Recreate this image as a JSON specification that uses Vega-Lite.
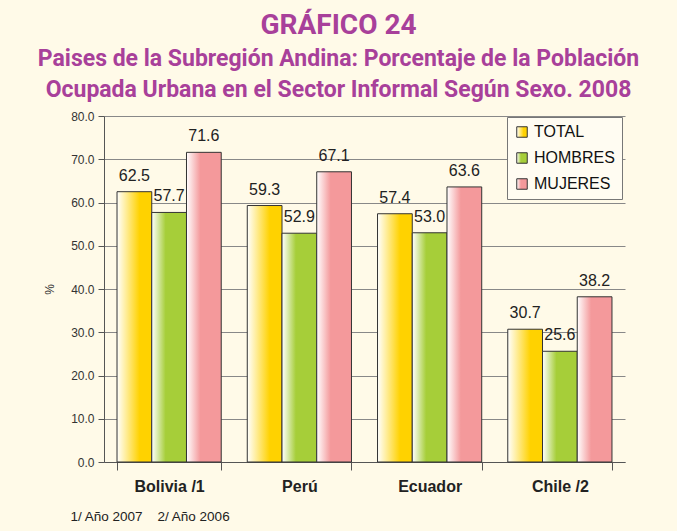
{
  "$schema": "https://vega.github.io/schema/vega-lite/v6.json",
  "autosize": {"type": "none"},
  "padding": {"left": 104, "top": 116, "right": 52, "bottom": 69},
  "width": 521,
  "height": 346,
  "background": "#FFFAE8",
  "title": {
    "text": "GRÁFICO 24",
    "subtitle": ["Paises de la Subregión Andina: Porcentaje de la Población", "Ocupada Urbana en el Sector Informal Según Sexo. 2008"],
    "font": "Roboto, Liberation Sans, sans-serif",
    "fontSize": 28,
    "fontWeight": "bold",
    "color": "#A8409A",
    "subtitleFont": "Roboto, Liberation Sans, sans-serif",
    "subtitleFontSize": 23,
    "subtitleFontWeight": "bold",
    "subtitleColor": "#A8409A",
    "subtitleLineHeight": 31,
    "subtitlePadding": 8,
    "anchor": "middle",
    "dx": -26,
    "offset": 8
  },
  "data": {
    "values": [
      {"pais": "Bolivia /1", "sexo": "TOTAL", "valor": 62.5},
      {"pais": "Bolivia /1", "sexo": "HOMBRES", "valor": 57.7},
      {"pais": "Bolivia /1", "sexo": "MUJERES", "valor": 71.6},
      {"pais": "Perú", "sexo": "TOTAL", "valor": 59.3},
      {"pais": "Perú", "sexo": "HOMBRES", "valor": 52.9},
      {"pais": "Perú", "sexo": "MUJERES", "valor": 67.1},
      {"pais": "Ecuador", "sexo": "TOTAL", "valor": 57.4},
      {"pais": "Ecuador", "sexo": "HOMBRES", "valor": 53.0},
      {"pais": "Ecuador", "sexo": "MUJERES", "valor": 63.6},
      {"pais": "Chile /2", "sexo": "TOTAL", "valor": 30.7},
      {"pais": "Chile /2", "sexo": "HOMBRES", "valor": 25.6},
      {"pais": "Chile /2", "sexo": "MUJERES", "valor": 38.2}
    ]
  },
  "encoding": {
    "x": {
      "field": "pais", "type": "nominal", "sort": null,
      "scale": {"paddingInner": 0.2, "paddingOuter": 0.1},
      "axis": {
        "labelAngle": 0, "labelFont": "Liberation Sans, Arial, sans-serif", "labelFontSize": 16, "labelFontWeight": "bold",
        "labelColor": "#222", "labelPadding": 8, "tickBand": "extent", "tickSize": 8, "tickColor": "#555",
        "domainColor": "#555", "title": "1/ Año 2007\u00a0\u00a0\u00a0 2/ Año 2006", "titleFont": "Liberation Sans, Arial, sans-serif",
        "titleFontSize": 13.5, "titleFontWeight": "normal", "titleColor": "#222", "titleAnchor": "start", "titleAlign": "left",
        "titleX": -34, "titleY": 47
      }
    },
    "xOffset": {"field": "sexo", "type": "nominal", "sort": ["TOTAL", "HOMBRES", "MUJERES"], "scale": {"paddingInner": 0, "paddingOuter": 0}},
    "y": {
      "field": "valor", "type": "quantitative",
      "scale": {"domain": [0, 80], "nice": false},
      "axis": {
        "values": [0, 10, 20, 30, 40, 50, 60, 70, 80], "format": ".1f", "title": "%",
        "labelFont": "Liberation Sans, Arial, sans-serif", "labelFontSize": 12, "labelColor": "#333", "labelPadding": 4,
        "tickSize": 6, "tickColor": "#555", "domainColor": "#555", "gridColor": "#888", "gridWidth": 1,
        "titleFont": "Liberation Sans, Arial, sans-serif", "titleFontSize": 12, "titleFontWeight": "normal", "titleColor": "#333", "titlePadding": 14
      }
    }
  },
  "layer": [
    {
      "mark": {"type": "bar", "stroke": "#333", "strokeWidth": 1},
      "encoding": {
        "color": {
          "field": "sexo", "type": "nominal", "sort": ["TOTAL", "HOMBRES", "MUJERES"],
          "scale": {
            "domain": ["TOTAL", "HOMBRES", "MUJERES"],
            "range": [
              {"expr": "{gradient: 'linear', x1: 0, y1: 0, x2: 1, y2: 0, stops: [{offset: 0, color: '#ffffff'}, {offset: 0.65, color: '#FFD200'}, {offset: 1, color: '#FFD200'}]}"},
              {"expr": "{gradient: 'linear', x1: 0, y1: 0, x2: 1, y2: 0, stops: [{offset: 0, color: '#ffffff'}, {offset: 0.4, color: '#A6CE39'}, {offset: 1, color: '#A6CE39'}]}"},
              {"expr": "{gradient: 'linear', x1: 0, y1: 0, x2: 1, y2: 0, stops: [{offset: 0, color: '#ffffff'}, {offset: 0.4, color: '#F4999B'}, {offset: 1, color: '#F4999B'}]}"}
            ]
          },
          "legend": {
            "title": null, "orient": "none", "legendX": 403, "legendY": 1,
            "fillColor": "#FFFCF2", "strokeColor": "#777", "padding": 7,
            "symbolType": "square", "symbolSize": 110, "symbolStrokeColor": "#333", "symbolStrokeWidth": 1,
            "labelFont": "Liberation Sans, Arial, sans-serif", "labelFontSize": 16, "labelColor": "#111",
            "rowPadding": 10, "labelOffset": 4
          }
        }
      }
    },
    {
      "mark": {"type": "text", "baseline": "bottom", "dy": -8, "font": "Liberation Sans, Arial, sans-serif", "fontSize": 16, "color": "#222"},
      "encoding": {
        "text": {"field": "valor", "type": "quantitative", "format": ".1f"}
      }
    }
  ],
  "config": {"view": {"stroke": null}}
}
